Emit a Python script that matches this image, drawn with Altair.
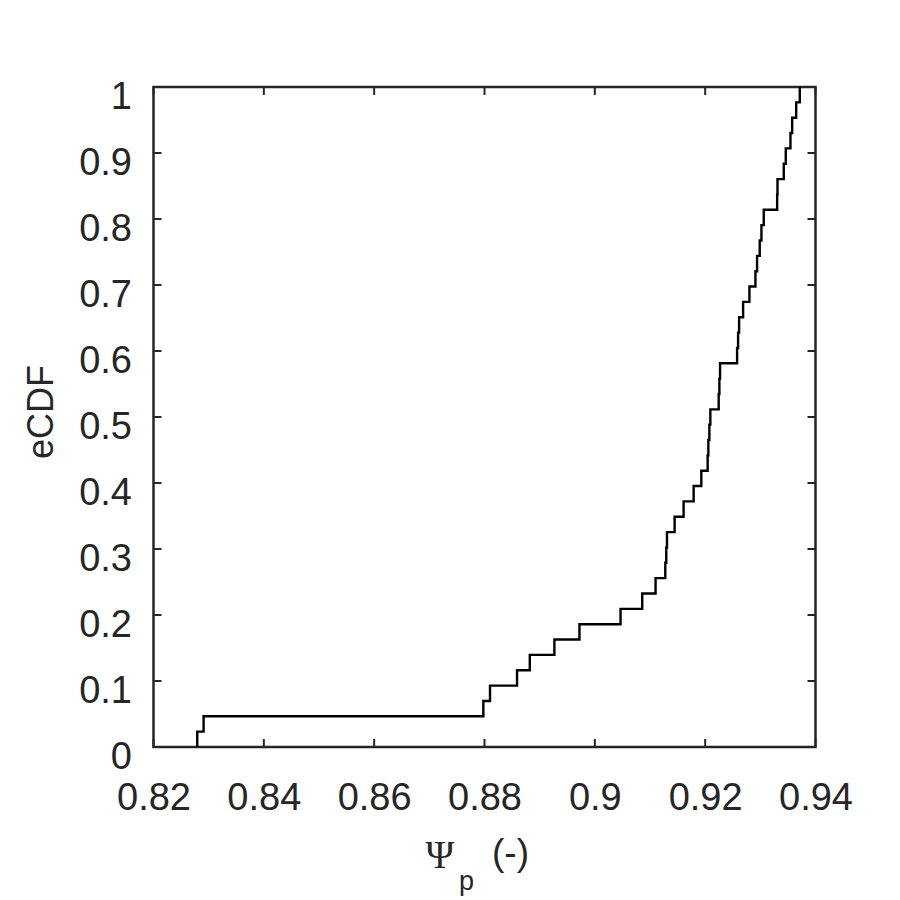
import altair as alt
import pandas as pd

# Sorted sample values of Psi_p
psi_p = [0.82793, 0.82908, 0.87979, 0.88100, 0.88590, 0.88821, 0.89267, 0.89721,
         0.90466, 0.90859, 0.91101, 0.91277, 0.91295, 0.91308, 0.91446, 0.91609,
         0.91791, 0.91930, 0.92045, 0.92058, 0.92076, 0.92094, 0.92245, 0.92258,
         0.92270, 0.92579, 0.92597, 0.92615, 0.92688, 0.92802, 0.92911, 0.92941,
         0.92989, 0.93020, 0.93062, 0.93305, 0.93311, 0.93425, 0.93461, 0.93546,
         0.93577, 0.93650, 0.93715]

x_ticks = [0.82, 0.84, 0.86, 0.88, 0.90, 0.92, 0.94]
y_ticks = [0, 0.1, 0.2, 0.3, 0.4, 0.5, 0.6, 0.7, 0.8, 0.9, 1]

n = len(psi_p)
xs = [psi_p[0]] + psi_p
fs = [0.0] + [(i + 1) / n for i in range(n)]
df = pd.DataFrame({"x": xs, "F": fs, "idx": list(range(len(xs)))})

W, H = 662, 660
AX = "#262626"
FONT = "Liberation Sans"
TL = 8

xscale = alt.Scale(domain=[0.82, 0.94], nice=False, zero=False)
yscale = alt.Scale(domain=[0, 1], nice=False, zero=False)

axis_common = dict(domain=False, ticks=False, tickSize=0, grid=False,
                   labelFont=FONT, labelFontSize=38, labelColor=AX, title=None,
                   labelOverlap=False, labelFlush=False, labelBound=False)

line = alt.Chart(df).mark_line(interpolate="step-after", color="black", strokeWidth=2.4).encode(
    x=alt.X("x:Q", scale=xscale,
            axis=alt.Axis(values=x_ticks, format="~g", labelPadding=32, **axis_common)),
    y=alt.Y("F:Q", scale=yscale,
            axis=alt.Axis(values=y_ticks, format="~g", labelPadding=22, labelOffset=10, **axis_common)),
    order="idx:Q",
)

xt = pd.DataFrame({"x": x_ticks})
yt = pd.DataFrame({"y": y_ticks})
tick_style = dict(color=AX, strokeWidth=2)

bottom_ticks = alt.Chart(xt).mark_rule(**tick_style).encode(
    x=alt.X("x:Q", scale=xscale), y=alt.value(H), y2=alt.value(H - TL))
top_ticks = alt.Chart(xt).mark_rule(**tick_style).encode(
    x=alt.X("x:Q", scale=xscale), y=alt.value(0), y2=alt.value(TL))
left_ticks = alt.Chart(yt).mark_rule(**tick_style).encode(
    y=alt.Y("y:Q", scale=yscale), x=alt.value(0), x2=alt.value(TL))
right_ticks = alt.Chart(yt).mark_rule(**tick_style).encode(
    y=alt.Y("y:Q", scale=yscale), x=alt.value(W), x2=alt.value(W - TL))

def label(txt, x, y, size, font=FONT, angle=0):
    return alt.Chart(pd.DataFrame({"t": [txt]})).mark_text(
        font=font, fontSize=size, color=AX, align="center", baseline="alphabetic", angle=angle
    ).encode(text="t:N", x=alt.value(x), y=alt.value(y))

psi = label("Ψ", 286.5, 780.7, 39, font="Liberation Serif")
sub = label("p", 313, 803, 27)
unit = label("(-)", 357, 778, 37)
ytitle = label("eCDF", -101, 325, 36, angle=270)

chart = alt.layer(line, bottom_ticks, top_ticks, left_ticks, right_ticks, psi, sub, unit, ytitle).properties(
    width=W, height=H,
    autosize=alt.AutoSizeParams(type="none"),
    padding={"left": 145.5, "top": 79, "right": 40, "bottom": 150},
    background="white",
).configure_view(
    stroke=AX, strokeWidth=2.5
).configure_axis(
    domain=False, ticks=False, tickSize=0, grid=False,
    labelFont=FONT, labelFontSize=38, labelColor=AX,
)

chart.save("out.html", embed_options={"renderer": "svg", "actions": False})
